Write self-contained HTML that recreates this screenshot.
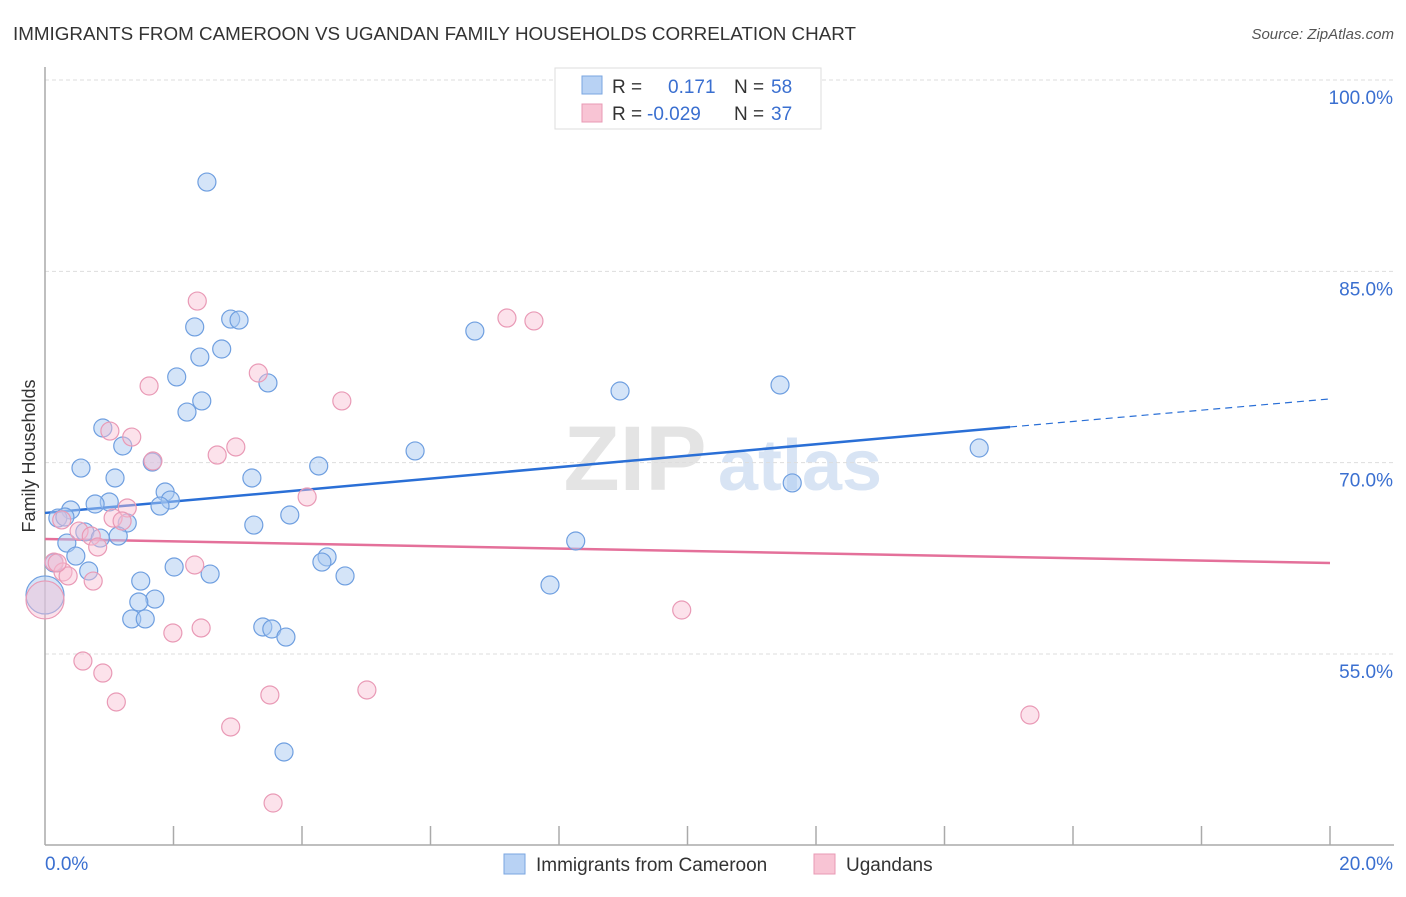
<!DOCTYPE html>
<html><head><meta charset="utf-8"><style>
body{margin:0;background:#fff;font-family:"Liberation Sans",sans-serif;}
svg text{font-family:"Liberation Sans",sans-serif;}
</style></head><body>
<svg width="1406" height="892" xmlns="http://www.w3.org/2000/svg">
<text x="13" y="40" font-size="18.5" fill="#333" textLength="843" lengthAdjust="spacingAndGlyphs">IMMIGRANTS FROM CAMEROON VS UGANDAN FAMILY HOUSEHOLDS CORRELATION CHART</text>
<text x="1394" y="39" font-size="15" fill="#555" font-style="italic" text-anchor="end">Source: ZipAtlas.com</text>
<g>
<text x="635" y="490" font-size="92" font-family="Liberation Serif" fill="#e4e4e4" text-anchor="middle" font-weight="bold">ZIP</text>
<text x="800" y="490" font-size="72" fill="#d8e4f4" text-anchor="middle" font-weight="bold">atlas</text>
</g>
<g id="grid"></g>
<g id="axes"></g>
<g id="lines"></g>
<g id="pts"></g>
<text x="35" y="456" font-size="18" fill="#333" text-anchor="middle" transform="rotate(-90 35 456)">Family Households</text>
<g>
<rect x="555" y="68" width="266" height="61" fill="#fff" stroke="#ddd"/>
<rect x="582" y="76" width="20" height="18" fill="#b8d2f4" stroke="#7aa6e0"/>
<rect x="582" y="104" width="20" height="18" fill="#f8c4d4" stroke="#e89ab4"/>
<text x="612" y="93" font-size="19" fill="#333">R = </text><text x="668" y="93" font-size="19" fill="#3a6fd0">0.171</text>
<text x="734" y="93" font-size="19" fill="#333">N = </text><text x="771" y="93" font-size="19" fill="#3a6fd0">58</text>
<text x="612" y="120" font-size="19" fill="#333">R = </text><text x="647" y="120" font-size="19" fill="#3a6fd0">-0.029</text>
<text x="734" y="120" font-size="19" fill="#333">N = </text><text x="771" y="120" font-size="19" fill="#3a6fd0">37</text>
</g>
<g>
<rect x="504" y="854" width="21" height="20" fill="#b8d2f4" stroke="#7aa6e0"/>
<text x="536" y="871" font-size="19" fill="#333">Immigrants from Cameroon</text>
<rect x="814" y="854" width="21" height="20" fill="#f8c4d4" stroke="#e89ab4"/>
<text x="846" y="871" font-size="19" fill="#333">Ugandans</text>
</g>
</svg>
<script>
const blueX=[2.52,2.89,3.02,2.33,6.69,2.75,2.41,2.05,3.47,8.95,11.44,2.44,2.21,0.90,1.21,1.67,5.76,14.54,0.56,4.26,1.09,3.22,11.63,1.87,1.95,1.00,0.78,1.79,0.40,3.81,0.20,0.31,1.28,3.25,0.62,1.14,0.86,0.34,8.26,0.48,4.39,4.31,0.14,0.68,2.01,2.57,4.67,1.49,7.86,1.71,1.46,0,1.35,1.56,3.39,3.53,3.75,3.72];
const blueY=[92.0,81.26,81.18,80.64,80.32,78.91,78.28,76.72,76.25,75.62,76.09,74.84,73.97,72.72,71.31,70.05,70.92,71.15,69.58,69.74,68.80,68.80,68.41,67.70,67.07,66.92,66.76,66.60,66.29,65.90,65.66,65.74,65.27,65.11,64.57,64.25,64.09,63.70,63.86,62.68,62.61,62.21,62.14,61.51,61.82,61.27,61.12,60.72,60.41,59.31,59.08,59.63,57.75,57.75,57.12,56.96,56.33,47.32];
const pinkX=[2.37,7.19,7.61,3.32,1.62,4.62,1.01,1.35,2.97,2.68,1.68,4.08,0.26,1.28,1.06,1.20,0.53,0.72,0.82,0.14,0.28,0.36,0.75,2.33,9.91,1.99,2.43,0,0.59,0.90,1.11,3.50,5.01,2.89,15.33,3.55,0.19];
const pinkY=[82.67,81.34,81.11,77.03,76.01,74.84,72.48,72.01,71.23,70.60,70.13,67.31,65.51,66.45,65.66,65.43,64.64,64.25,63.39,62.21,61.43,61.12,60.72,61.98,58.45,56.65,57.04,59.24,54.45,53.51,51.24,51.79,52.18,49.28,50.22,43.32,62.14];
const blueTrend=[[0,66.06],[15.02,72.80],[20,75.0]];
const pinkTrend=[[0,64.02],[20,62.14]];
const yTicks=[100,85,70,55];
const yTickLabels=["100.0%","85.0%","70.0%","55.0%"];
const xTicks=[0,2,4,6,8,10,12,14,16,18,20];
const NS="http://www.w3.org/2000/svg";
function sx(v){return 45+v*64.25;}
function sy(v){return 80+(100-v)*12.756;}
function mk(tag,attrs,parent){const e=document.createElementNS(NS,tag);for(const k in attrs)e.setAttribute(k,attrs[k]);document.getElementById(parent).appendChild(e);return e;}
yTicks.forEach((t,i)=>{
 const l=mk('line',{x1:45,x2:1394,y1:sy(t),y2:sy(t),stroke:'#ddd','stroke-dasharray':'4 3'},'grid');
 
 
 const tx=mk('text',{x:1393,y:sy(t)+24,'font-size':19,fill:'#3a6fd0','text-anchor':'end'},'grid');
 tx.textContent=yTickLabels[i];
 
 
});
const ya=mk('line',{x1:45,x2:45,y1:67,y2:845,stroke:'#aaa','stroke-width':1.5},'axes');


const xa=mk('line',{x1:45,x2:1394,y1:845,y2:845,stroke:'#aaa','stroke-width':1.5},'axes');


xTicks.forEach(t=>{if(t===0)return;
 const l=mk('line',{x1:sx(t),x2:sx(t),y1:826,y2:845,stroke:'#aaa','stroke-width':1.5},'axes');
 
 
});
const x0=mk('text',{x:45,y:870,'font-size':19,fill:'#3a6fd0'},'axes');x0.textContent='0.0%';


const x1=mk('text',{x:1393,y:870,'font-size':19,fill:'#3a6fd0','text-anchor':'end'},'axes');x1.textContent='20.0%';


function dot(x,y,fill,stroke,name){
 const r=(x===0)?19:9;
 const c=mk('circle',{cx:sx(x),cy:sy(y),r:r,fill:fill,stroke:stroke,'stroke-width':1.2},'pts');
 
 
}
blueX.forEach((x,i)=>dot(x,blueY[i],'rgba(170,202,242,0.5)','#6f9fe0','cameroon-point'));
pinkX.forEach((x,i)=>dot(x,pinkY[i],'rgba(248,190,210,0.45)','#e99ab6','ugandan-point'));
const b1=mk('line',{x1:sx(blueTrend[0][0]),y1:sy(blueTrend[0][1]),x2:sx(blueTrend[1][0]),y2:sy(blueTrend[1][1]),stroke:'#2a6fd6','stroke-width':2.5},'lines');


const b2=mk('line',{x1:sx(blueTrend[1][0]),y1:sy(blueTrend[1][1]),x2:sx(blueTrend[2][0]),y2:sy(blueTrend[2][1]),stroke:'#2a6fd6','stroke-width':1.2,'stroke-dasharray':'7 5'},'lines');


const p1=mk('line',{x1:sx(pinkTrend[0][0]),y1:sy(pinkTrend[0][1]),x2:sx(pinkTrend[1][0]),y2:sy(pinkTrend[1][1]),stroke:'#e4709a','stroke-width':2.5},'lines');


</script>
</body></html>
